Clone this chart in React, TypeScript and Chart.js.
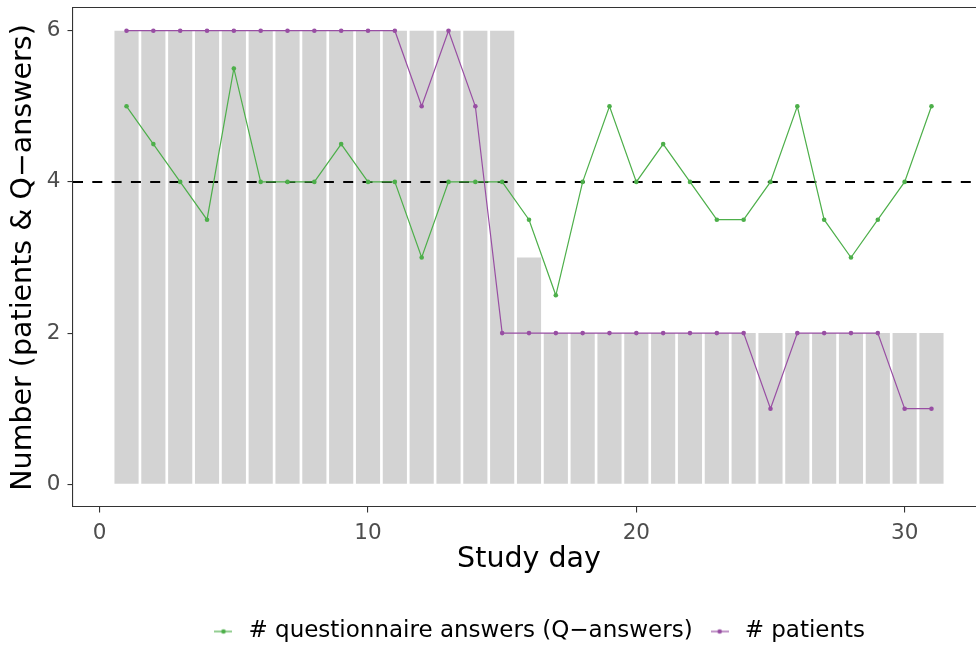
import React, { useEffect, useRef } from 'react';
import { Chart, registerables } from 'chart.js';

Chart.register(...registerables);

// ---- data -------------------------------------------------------------
const DAYS = [1, 2, 3, 4, 5, 6, 7, 8, 9, 10, 11, 12, 13, 14, 15, 16, 17, 18, 19, 20, 21, 22, 23, 24, 25, 26, 27, 28, 29, 30, 31];
const DAY_TOTALS = [6, 6, 6, 6, 6, 6, 6, 6, 6, 6, 6, 6, 6, 6, 6, 3, 2, 2, 2, 2, 2, 2, 2, 2, 2, 2, 2, 2, 2, 2, 2];
const Q_ANSWERS = [5, 4.5, 4, 3.5, 5.5, 4, 4, 4, 4.5, 4, 4, 3, 4, 4, 4, 3.5, 2.5, 4, 5, 4, 4.5, 4, 3.5, 3.5, 4, 5, 3.5, 3, 3.5, 4, 5];
const PATIENTS = [6, 6, 6, 6, 6, 6, 6, 6, 6, 6, 6, 5, 6, 5, 2, 2, 2, 2, 2, 2, 2, 2, 2, 2, 1, 2, 2, 2, 2, 1, 1];
const REFERENCE_LEVEL = 4;

const X_TICKS = [0, 10, 20, 30];
const Y_TICKS = [0, 2, 4, 6];
const X_MIN = -0.995;
const X_MAX = 32.995;
const Y_MIN = -0.3;
const Y_MAX = 6.3;

const X_TITLE = 'Study day';
const Y_TITLE = 'Number (patients & Q\u2212answers)';
const Q_LABEL = '# questionnaire answers (Q\u2212answers)';
const P_LABEL = '# patients';

// ---- styling ----------------------------------------------------------
const FONT = "'DejaVu Sans', 'Liberation Sans', sans-serif";
const GREEN = '#4DAF4A';
const PURPLE = '#984EA3';
const BAR_GREY = '#D3D3D3';
const AXIS = '#333333';
const TICK_TEXT = '#4D4D4D';

const CANVAS_W = 1075;
const CANVAS_H = 653;
const RIGHT_SPACE = 90;

function legendGlyph(color: string): HTMLCanvasElement {
  const c = document.createElement('canvas');
  c.width = 18;
  c.height = 8;
  const g = c.getContext('2d') as CanvasRenderingContext2D;
  g.strokeStyle = color;
  g.lineWidth = 1.2;
  g.beginPath();
  g.moveTo(0, 4);
  g.lineTo(18, 4);
  g.stroke();
  g.fillStyle = color;
  g.beginPath();
  g.arc(9, 4, 2.3, 0, Math.PI * 2);
  g.fill();
  return c;
}

const toPoints = (ys: number[]) => DAYS.map((d, i) => ({ x: d, y: ys[i] }));

// fixed-size axis boxes; tick labels never push the plot area inwards
const fixSize = (w: number | null, h: number | null) => (s: any) => {
  if (w !== null) s.width = w;
  if (h !== null) s.height = h;
  s.paddingTop = 0;
  s.paddingBottom = 0;
  s.paddingLeft = 0;
  s.paddingRight = 0;
};

export default function App() {
  const ref = useRef<HTMLCanvasElement | null>(null);

  useEffect(() => {
    const canvas = ref.current;
    if (!canvas) return;
    const greenGlyph = legendGlyph(GREEN);
    const purpleGlyph = legendGlyph(PURPLE);

    const chart = new Chart(canvas, {
      type: 'bar',
      data: {
        datasets: [
          {
            type: 'line',
            label: Q_LABEL,
            data: toPoints(Q_ANSWERS),
            borderColor: GREEN,
            backgroundColor: GREEN,
            borderWidth: 1.2,
            pointRadius: 2.3,
            pointBorderWidth: 0,
            pointBackgroundColor: GREEN,
            tension: 0,
            order: 2,
          },
          {
            type: 'line',
            label: P_LABEL,
            data: toPoints(PATIENTS),
            borderColor: PURPLE,
            backgroundColor: PURPLE,
            borderWidth: 1.2,
            pointRadius: 2.3,
            pointBorderWidth: 0,
            pointBackgroundColor: PURPLE,
            tension: 0,
            order: 1,
          },
          {
            type: 'bar',
            label: 'days',
            data: toPoints(DAY_TOTALS),
            backgroundColor: BAR_GREY,
            borderWidth: 0,
            barPercentage: 0.9,
            categoryPercentage: 1,
            order: 4,
          },
          {
            type: 'line',
            label: 'reference',
            data: [
              { x: X_MIN, y: REFERENCE_LEVEL },
              { x: X_MAX, y: REFERENCE_LEVEL },
            ],
            borderColor: '#000000',
            borderWidth: 2,
            borderDash: [10, 9.3],
            pointRadius: 0,
            order: 3,
          },
        ],
      } as any,
      options: {
        responsive: false,
        animation: false,
        devicePixelRatio: 1,
        events: [],
        layout: { padding: { top: 8, left: 0, right: 0, bottom: 0 } },
        plugins: {
          tooltip: { enabled: false },
          legend: {
            display: true,
            position: 'bottom',
            align: 'center',
            labels: {
              font: { family: FONT, size: 23 },
              color: '#000000',
              padding: 13.5,
              usePointStyle: true,
              pointStyleWidth: 27,
              generateLabels: () => [
                { text: Q_LABEL, pointStyle: greenGlyph, fillStyle: GREEN, strokeStyle: GREEN, lineWidth: 0, hidden: false, datasetIndex: 0, fontColor: '#000000' },
                { text: P_LABEL, pointStyle: purpleGlyph, fillStyle: PURPLE, strokeStyle: PURPLE, lineWidth: 0, hidden: false, datasetIndex: 1, fontColor: '#000000' },
              ] as any,
            },
          },
        },
        scales: {
          x: {
            type: 'linear',
            position: 'bottom',
            min: X_MIN,
            max: X_MAX,
            offset: false,
            afterBuildTicks: (s: any) => {
              s.ticks = X_TICKS.map((v) => ({ value: v }));
            },
            afterFit: fixSize(null, 99.5),
            ticks: {
              font: { family: FONT, size: 21.5 },
              color: TICK_TEXT,
              padding: 8,
              maxRotation: 0,
              autoSkip: false,
            },
            grid: { display: true, drawOnChartArea: false, drawTicks: true, tickLength: 5.5, color: AXIS, lineWidth: 1.1, offset: false },
            border: { display: true, color: AXIS, width: 1.1 },
            title: {
              display: true,
              text: X_TITLE,
              color: '#000000',
              font: { family: FONT, size: 28.5, lineHeight: 1.2 },
              padding: { top: 0, bottom: 29.4 },
            },
          },
          xTop: {
            type: 'linear',
            position: 'top',
            min: X_MIN,
            max: X_MAX,
            offset: false,
            ticks: { display: false },
            grid: { display: false },
            border: { display: true, color: AXIS, width: 1.1 },
            afterFit: fixSize(null, 0),
          },
          y: {
            type: 'linear',
            position: 'left',
            min: Y_MIN,
            max: Y_MAX,
            afterBuildTicks: (s: any) => {
              s.ticks = Y_TICKS.map((v) => ({ value: v }));
            },
            afterFit: fixSize(73, null),
            ticks: {
              font: { family: FONT, size: 21.5 },
              color: TICK_TEXT,
              padding: 7,
            },
            grid: { display: true, drawOnChartArea: false, drawTicks: true, tickLength: 5.5, color: AXIS, lineWidth: 1.1 },
            border: { display: true, color: AXIS, width: 1.1 },
            title: {
              display: true,
              text: Y_TITLE,
              color: '#000000',
              font: { family: FONT, size: 28.5, lineHeight: 1.2 },
              padding: { top: 6, bottom: 0 },
            },
          },
          yRight: {
            type: 'linear',
            position: 'right',
            ticks: { display: false },
            grid: { display: false },
            border: { display: false },
            afterFit: fixSize(RIGHT_SPACE, null),
          },
        },
      } as any,
    });

    return () => chart.destroy();
  }, []);

  return (
    <div
      style={{
        position: 'fixed',
        left: 0,
        top: 0,
        width: 976,
        height: 646,
        overflow: 'hidden',
        background: '#ffffff',
      }}
    >
      <canvas ref={ref} width={CANVAS_W} height={CANVAS_H} style={{ display: 'block', width: CANVAS_W, height: CANVAS_H }} />
    </div>
  );
}
